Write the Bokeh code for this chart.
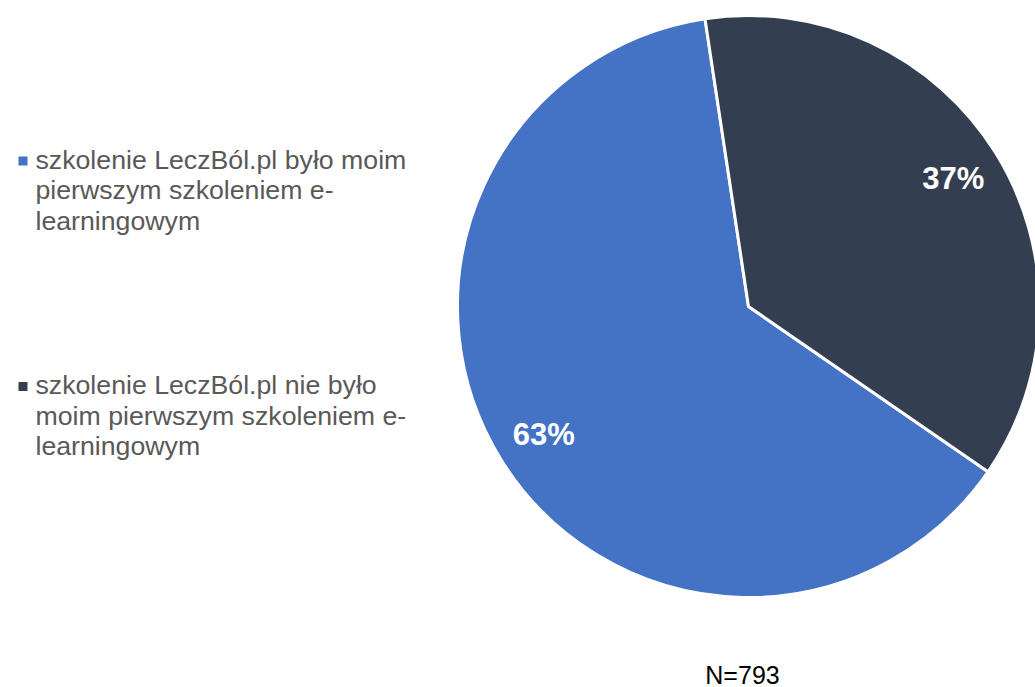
import math
from bokeh.plotting import figure
from bokeh.models import Range1d, ColumnDataSource
from bokeh.core.properties import value
from bokeh.embed import file_html
from bokeh.resources import INLINE

# ---- data ----
categories = [
    "szkolenie LeczBól.pl było moim pierwszym szkoleniem e-learningowym",
    "szkolenie LeczBól.pl nie było moim pierwszym szkoleniem e-learningowym",
]
legend_lines = [
    ["szkolenie LeczBól.pl było moim", "pierwszym szkoleniem e-", "learningowym"],
    ["szkolenie LeczBól.pl nie było", "moim pierwszym szkoleniem e-", "learningowym"],
]
values = [63, 37]
colors = ["#4472C4", "#333F50"]
note = "N=793"

# ---- layout (picture-pixel coordinates, y measured downward from top) ----
W, H = 1035, 687
PAGE_H = H

def Y(y_img):
    return PAGE_H - y_img

p = figure(width=W, height=H, output_backend="svg", toolbar_location=None,
           x_range=Range1d(0, W), y_range=Range1d(0, H),
           min_border=0, outline_line_color=None)
p.axis.visible = False
p.grid.visible = False
p.background_fill_color = "white"
p.border_fill_color = "white"

cx, cy, R = 748, 306, 291
first_slice = 124.6  # degrees clockwise from 12 o'clock

total = sum(values)
starts, ends, mids = [], [], []
theta = first_slice
for v in values:
    span = 360.0 * v / total
    starts.append(math.radians(90 - theta))
    ends.append(math.radians(90 - theta - span))
    mids.append(theta + span / 2)
    theta += span

src = ColumnDataSource(dict(x=[cx] * len(values), y=[Y(cy)] * len(values),
                            start=starts, end=ends, color=colors))
p.wedge(x="x", y="y", radius=R, start_angle="start", end_angle="end",
        direction="clock", fill_color="color", line_color="white",
        line_width=3, source=src)

# data labels
lr = 0.83 * R
lx = [cx + lr * math.sin(math.radians(m)) for m in mids]
ly = [Y(cy - lr * math.cos(math.radians(m))) for m in mids]
p.text(x=lx, y=ly, text=[f"{v}%" for v in values],
       text_font=value("Liberation Sans"), text_font_style="bold",
       text_font_size="31px", text_color="white",
       text_align="center", text_baseline="middle")

# legend
sq_x, txt_x = 22.5, 35
block_base = [159, 384.5]
line_gap = 30.5
for i, lines in enumerate(legend_lines):
    b = block_base[i]
    p.scatter(x=[sq_x], y=[Y(b + 1.5)], marker="square", size=9,
              fill_color=colors[i], line_color=None)
    p.text(x=[txt_x] * len(lines), y=[Y(b + k * line_gap) for k in range(len(lines))],
           text=lines, text_font=value("Liberation Sans"), text_font_size="26.7px",
           text_color="#595959", text_align="left", text_baseline="alphabetic")

p.text(x=[742], y=[Y(674)], text=[note], text_font=value("Liberation Sans"),
       text_font_size="25px", text_color="#000000",
       text_align="center", text_baseline="alphabetic")

open("out.html", "w").write(file_html(p, INLINE))
